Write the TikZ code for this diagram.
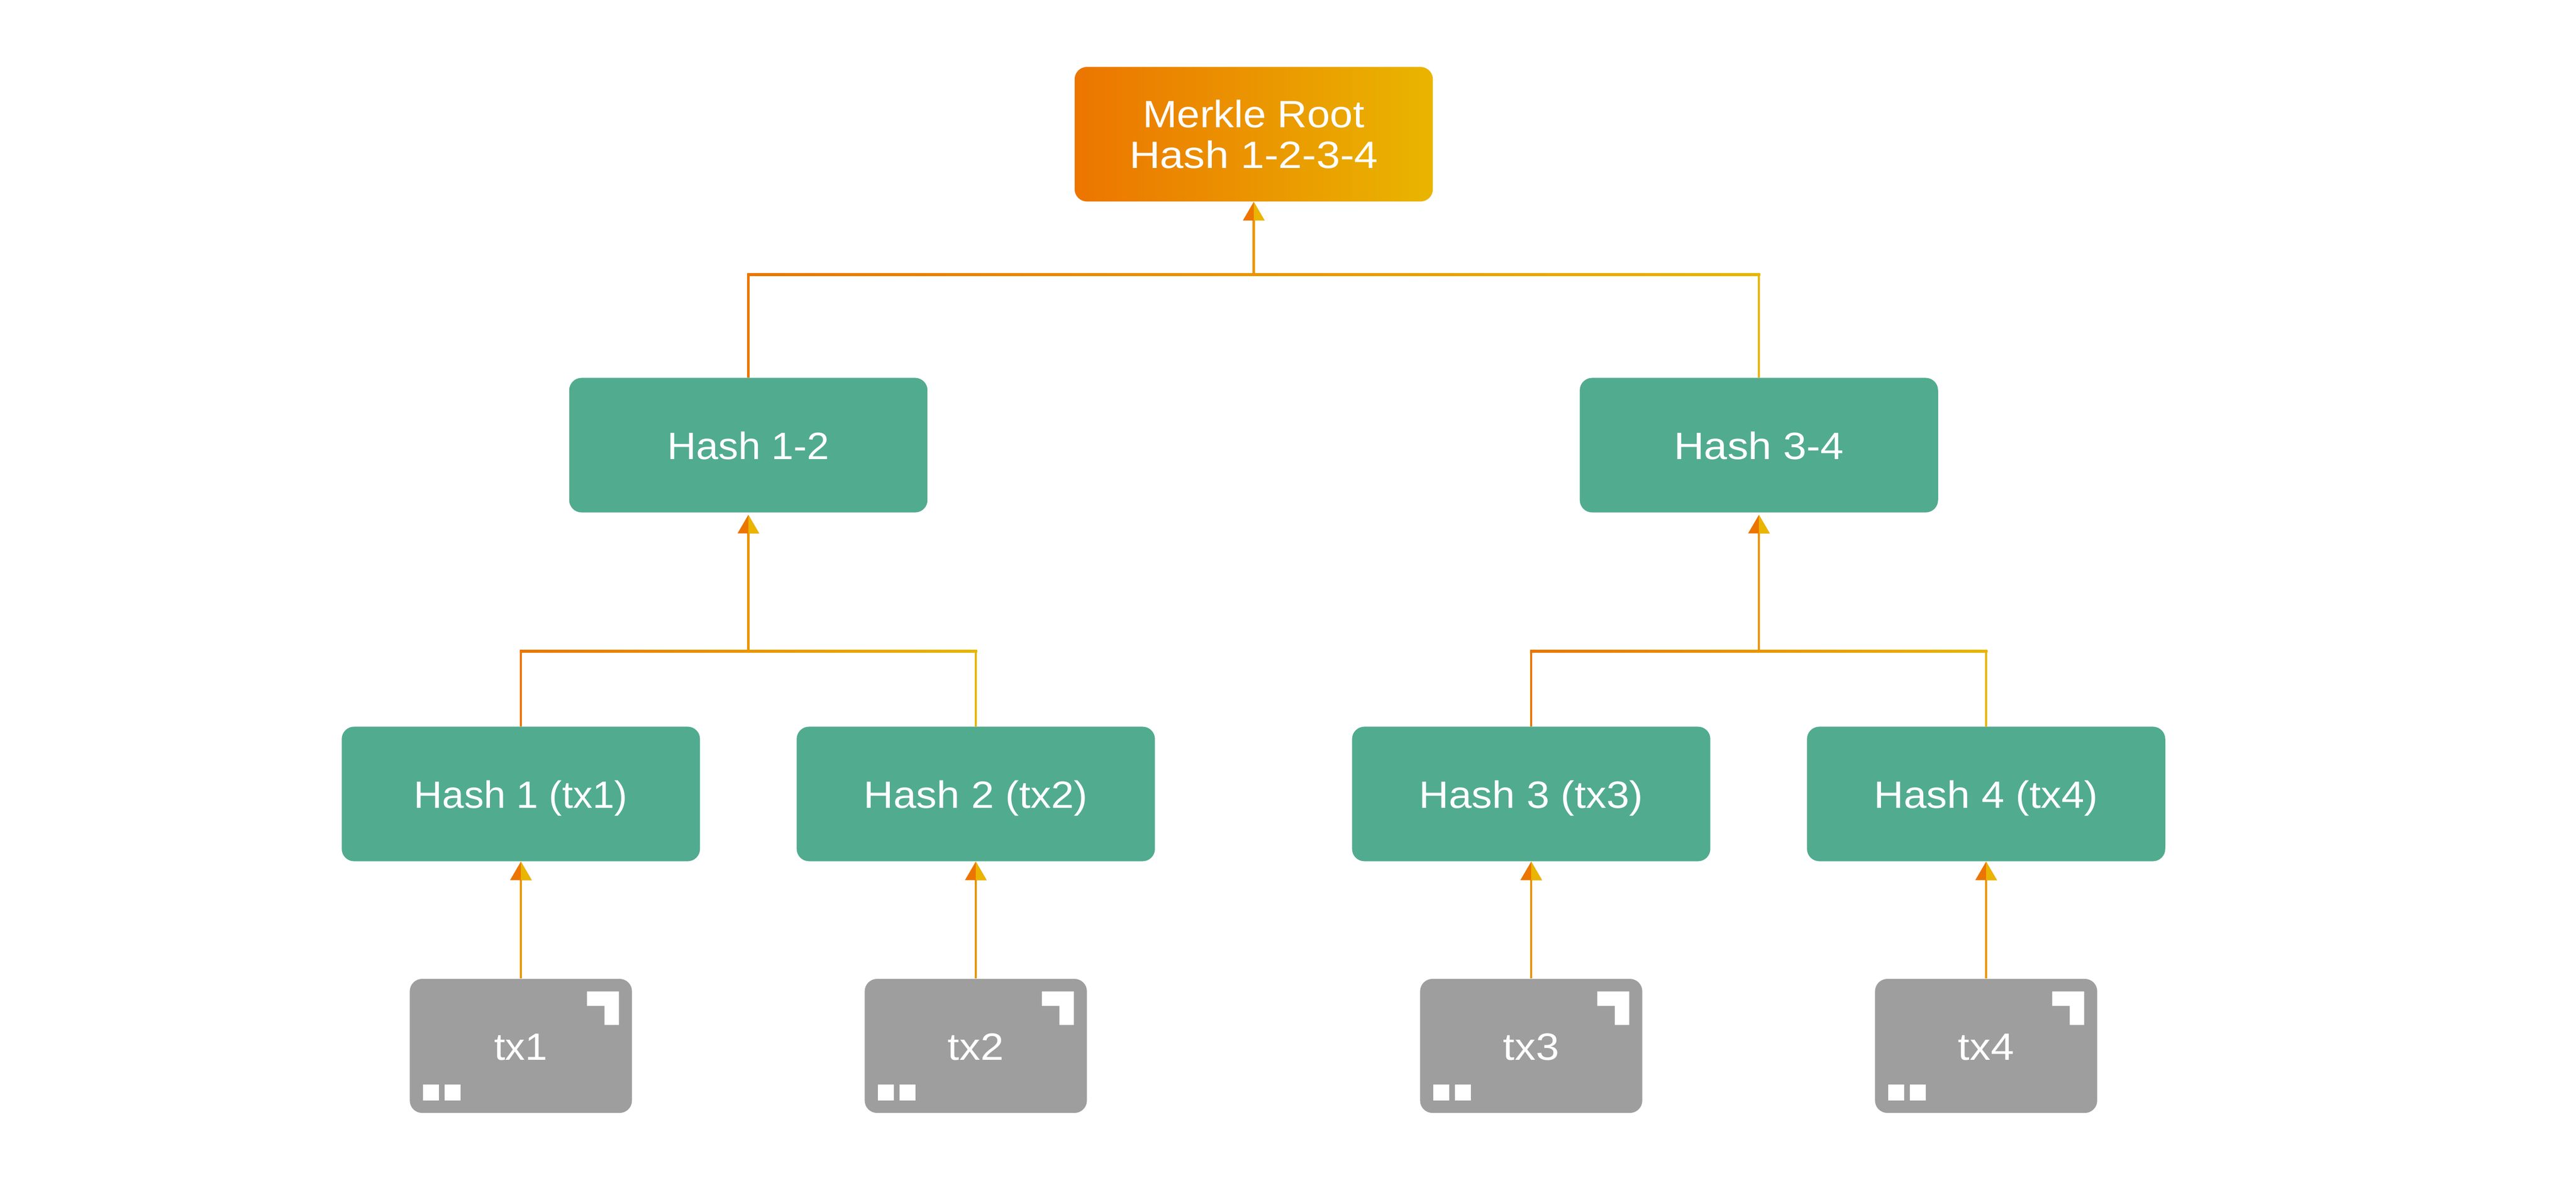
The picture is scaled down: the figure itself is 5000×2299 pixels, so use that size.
\documentclass[tikz,border=0pt]{standalone}
\usepackage{fontspec}
\setmainfont[FakeStretch=1.05]{Liberation Sans}
\newfontface\faceA[FakeStretch=1.08]{Liberation Sans}
\newfontface\faceB[FakeStretch=1.10]{Liberation Sans}
\newfontface\faceC[FakeStretch=1.12]{Liberation Sans}
\newfontface\faceD[FakeStretch=1.03]{Liberation Sans}
\usetikzlibrary{calc,arrows.meta}
\definecolor{ceorange}{HTML}{EC7500}
\definecolor{ceyellow}{HTML}{E9B500}
\definecolor{cemid}{HTML}{EA9500}
\definecolor{cegreen}{HTML}{51AB8F}
\definecolor{cegray}{HTML}{9E9E9E}
\tikzset{
  x=0.01cm,y=-0.01cm,
  basebox/.style={rounded corners=0.24cm,inner sep=0pt,text=white,align=center,
    font=\fontsize{21}{22.5}\selectfont},
  hashbox/.style={basebox,fill=cegreen,minimum width=6.95cm,minimum height=2.61cm,text height=0.54cm,text depth=0pt},
  rootbox/.style={basebox,left color=ceorange,right color=ceyellow,minimum width=6.95cm,minimum height=2.61cm},
  txbox/.style={basebox,fill=cegray,minimum width=4.31cm,minimum height=2.6cm,text height=0.54cm,text depth=0pt},
  riserline/.style={draw=cemid,line width=0.045cm,
    -{Triangle[length=0.36cm,width=0.42cm,color=ceorange,line width=0pt]}},
  branchline/.style={line width=0.045cm},
}
\newcommand{\riser}[3]{%
  \draw[riserline,shorten >=#3*0.01cm] (#1) -- (#2.south);
  \fill[ceyellow] ($(#2.south)+(0,#3)$) -- ++(21,36) -- ++(-21,0) -- cycle;
}
\newcommand{\branch}[3]{%
  \draw[branchline,ceorange] (#1.north) -- (#1.north |- #3);
  \draw[branchline,ceyellow] (#2.north) -- (#2.north |- #3);
  \shade[left color=ceorange,right color=ceyellow]
    ($(#1.north |- #3)+(-2.25,-2.25)$) rectangle ($(#2.north |- #3)+(2.25,2.25)$);
}
\newcommand{\txmarks}[1]{%
  \fill[white] ($(#1.north east)+(-88,25)$) -- ++(62,0) -- ++(0,65) -- ++(-28,0) -- ++(0,-37) -- ++(-34,0) -- cycle;
  \fill[white] ($(#1.south west)+(26,-55.5)$) rectangle ++(31,31);
  \fill[white] ($(#1.south west)+(68,-55.5)$) rectangle ++(31,31);
}
\begin{document}
\begin{tikzpicture}
\fill[white] (0,0) rectangle (5000,2299);
\useasboundingbox (0,0) rectangle (5000,2299);
\node[rootbox] (root) at (2433.5,260.5) {{\faceA Merkle Root}\\{\faceC Hash 1-2-3-4}};
\node[hashbox] (h12) at (1452.5,864) {Hash 1-2};
\node[hashbox] (h34) at (3414,864) {{\faceB Hash 3-4}};
\node[hashbox] (h1) at (1011,1541) {{\faceD Hash 1 (tx1)}};
\node[hashbox] (h2) at (1894,1541) {{\faceA Hash 2 (tx2)}};
\node[hashbox] (h3) at (2972,1541) {{\faceA Hash 3 (tx3)}};
\node[hashbox] (h4) at (3855,1541) {{\faceA Hash 4 (tx4)}};
\node[txbox] (t1) at (1011,2030) {tx1};
\node[txbox] (t2) at (1894,2030) {{\faceB tx2}};
\node[txbox] (t3) at (2972,2030) {{\faceB tx3}};
\node[txbox] (t4) at (3855,2030) {{\faceB tx4}};
\txmarks{t1}\txmarks{t2}\txmarks{t3}\txmarks{t4}
\coordinate (jr) at (2433.5,533);
\coordinate (jl) at (1452.5,1264);
\coordinate (jm) at (3414,1264);
\branch{h12}{h34}{jr}
\branch{h1}{h2}{jl}
\branch{h3}{h4}{jm}
\riser{jr}{root}{0}
\riser{jl}{h12}{4}
\riser{jm}{h34}{4}
\riser{t1.north}{h1}{0}
\riser{t2.north}{h2}{0}
\riser{t3.north}{h3}{0}
\riser{t4.north}{h4}{0}
\end{tikzpicture}
\end{document}
